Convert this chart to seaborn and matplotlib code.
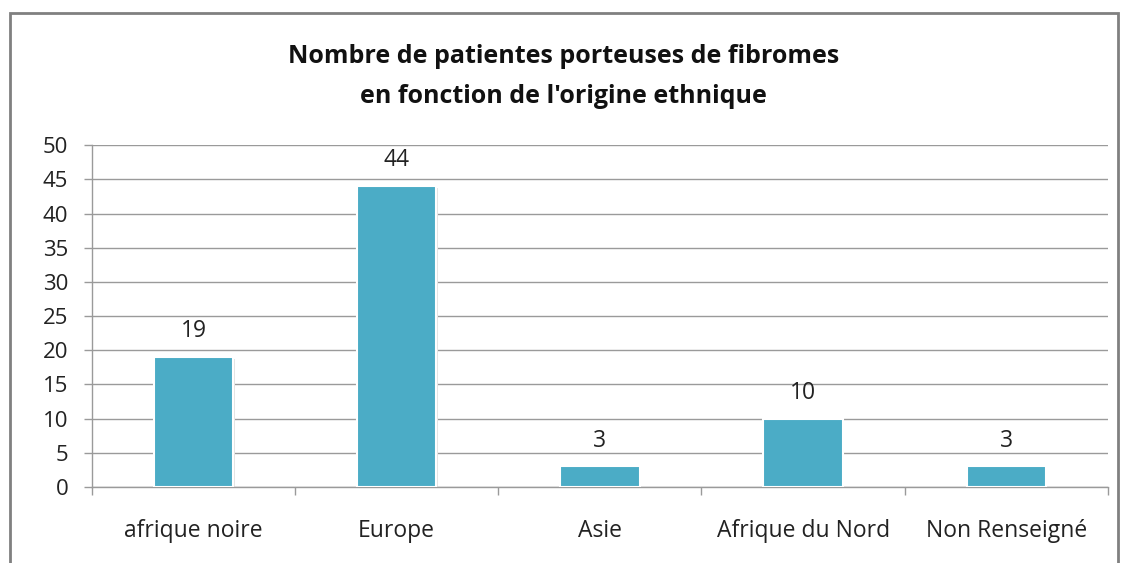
import matplotlib
matplotlib.use("Agg")
import matplotlib.pyplot as plt
import seaborn as sns
import pandas as pd
from matplotlib.patches import Rectangle

categories = ["afrique noire", "Europe", "Asie", "Afrique du Nord", "Non Renseigné"]
values = [19, 44, 3, 10, 3]
yticks = [0, 5, 10, 15, 20, 25, 30, 35, 40, 45, 50]
title = "Nombre de patientes porteuses de fibromes\nen fonction de l'origine ethnique"

sns.set_theme(style="white")
plt.rcParams['font.family'] = ['Open Sans', 'DejaVu Sans']

df = pd.DataFrame({"origine": categories, "n": values})

fig = plt.figure(figsize=(11.27, 5.63), dpi=100)
ax = fig.add_axes([0.0816, 0.135, 0.9014, 0.607])

sns.barplot(data=df, x="origine", y="n", color="#4BACC6", saturation=1,
            width=0.39, edgecolor="white", linewidth=1.5, ax=ax, zorder=3)

# subtle shadow
for p in ax.patches:
    sh = Rectangle((p.get_x() + 0.008, 0), p.get_width(), p.get_height() - 0.2,
                   facecolor="#e3e3e3", edgecolor="none", zorder=2,
                   transform=ax.transData)
    ax.add_patch(sh)

ax.set_ylim(0, 50)
ax.set_xlim(-0.5, len(categories) - 0.5)
ax.set_yticks(yticks)
ax.set_yticklabels([str(t) for t in yticks], fontsize=16, color="#222222")
ax.yaxis.grid(True, color="#9a9a9a", linewidth=1, zorder=0)
ax.set_axisbelow(True)
ax.set_xlabel("")
ax.set_ylabel("")

ax.set_xticks(range(len(categories)))
ax.set_xticklabels(categories, fontsize=16.5, color="#222222")
ax.tick_params(axis="x", length=0, pad=23)
ax.tick_params(axis="y", length=6, width=1, color="#9a9a9a", direction="out", pad=11, left=True)

# minor ticks at category boundaries
ax.set_xticks([i - 0.5 for i in range(len(categories) + 1)], minor=True)
ax.tick_params(axis="x", which="minor", length=6, width=1, color="#9a9a9a", direction="out", bottom=True)

for s in ["top", "right"]:
    ax.spines[s].set_visible(False)
for s in ["left", "bottom"]:
    ax.spines[s].set_visible(True)
    ax.spines[s].set_color("#9a9a9a")
    ax.spines[s].set_linewidth(1)

for i, v in enumerate(values):
    ax.annotate(str(v), (i, v), xytext=(0, 10), textcoords="offset points",
                ha="center", va="bottom", fontsize=16.5, color="#222222")

fig.text(0.5, 0.864, title, ha="center", va="center", fontsize=18,
         fontweight="bold", linespacing=1.75, color="#111111")

border = Rectangle((10 / 1127, -0.05), (1118 - 10) / 1127, 1.05 - 13 / 563,
                   transform=fig.transFigure, fill=False, edgecolor="#808080",
                   linewidth=2, clip_on=False)
fig.patches.append(border)

fig.savefig("out.png", dpi=100)
